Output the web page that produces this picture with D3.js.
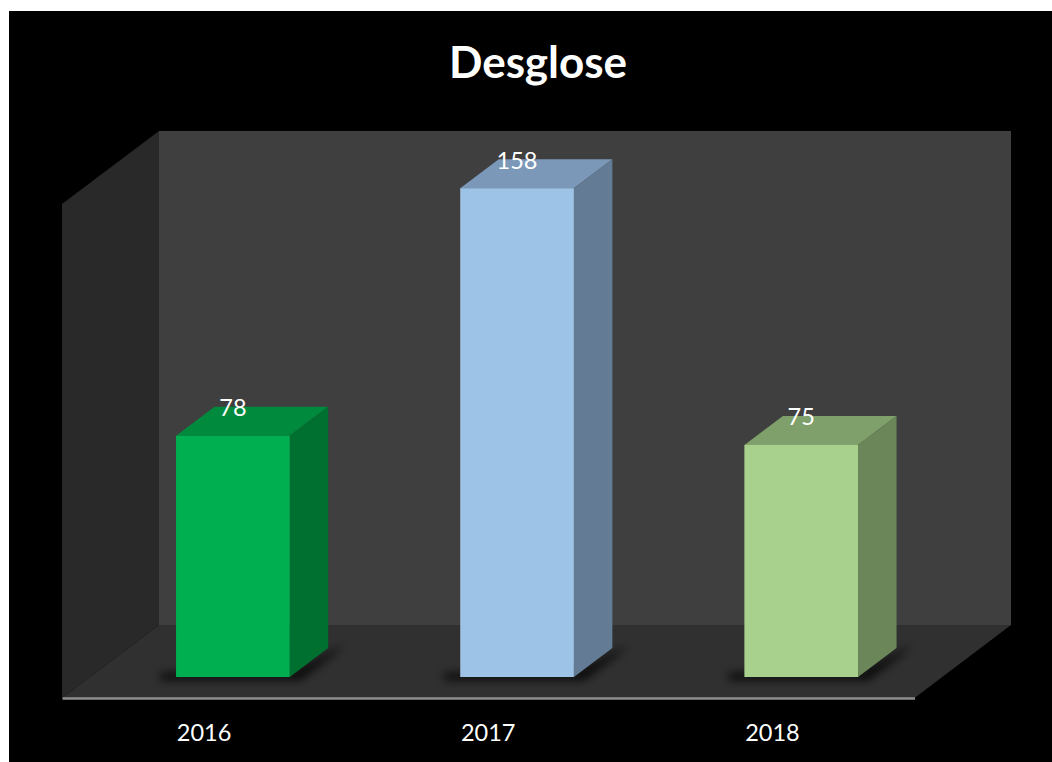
<!DOCTYPE html>
<html><head><meta charset="utf-8">
<script src="https://cdnjs.cloudflare.com/ajax/libs/d3/7.8.5/d3.min.js"></script>
<style>html,body{margin:0;padding:0;background:#fff;overflow:hidden}svg{display:block}text{font-family:Lato,"Open Sans",sans-serif}</style>
</head><body><script>
const categories = ["2016","2017","2018"];
const values = [78,158,75];
const frontColors = ["#00B050","#9DC3E6","#A9D18E"];
const sideColors  = ["#007030","#647B95","#6B8659"];
const topColors   = ["#008A3E","#7C98B8","#80A06B"];
const titleText = "Desglose";

const W=1052,H=762;
const svg=d3.select("body").append("svg").attr("width",W).attr("height",H);
svg.append("rect").attr("x",9).attr("y",11).attr("width",W-9).attr("height",H-11).attr("fill","#000");

const x=d3.scaleBand().domain(categories).range([62,914.5]).paddingInner(0.6).paddingOuter(0.3);
const baseY=677;
const y=d3.scaleLinear().domain([0,160]).range([baseY,baseY-495]);
const floorFront=698, floorDX=97, floorDY=-73;
const barShiftX=28.8, barDX=38.5, barDY=-29;
const pts=a=>a.map(p=>p.join(",")).join(" ");

const wallTopY=131, xL=x.range()[0], xR=x.range()[1];
// back wall
svg.append("polygon").attr("points",pts([[xL+floorDX,wallTopY],[xR+floorDX-0.5,wallTopY],[xR+floorDX-0.5,floorFront+floorDY],[xL+floorDX,floorFront+floorDY]])).attr("fill","#3F3F3F");
// side wall
svg.append("polygon").attr("points",pts([[xL,wallTopY-floorDY],[xL+floorDX,wallTopY],[xL+floorDX,floorFront+floorDY],[xL,floorFront]])).attr("fill","#292929");
// floor
svg.append("polygon").attr("points",pts([[xL,floorFront],[xL+floorDX,floorFront+floorDY],[xR+floorDX-0.5,floorFront+floorDY],[xR,floorFront]])).attr("fill","#303030");

const defs=svg.append("defs");
defs.append("filter").attr("id","sh").attr("x","-30%").attr("y","-60%").attr("width","160%").attr("height","220%")
  .append("feGaussianBlur").attr("stdDeviation",5);

const data=categories.map((c,i)=>({c,v:values[i],i}));
const bw=x.bandwidth();
const g=svg.append("g").selectAll("g").data(data).join("g");
const bx=d=>x(d.c)+barShiftX;
// floor shadow
g.append("polygon").attr("filter","url(#sh)").attr("fill","#000").attr("fill-opacity",0.85)
 .attr("points",d=>pts([[bx(d)-16,baseY-4],[bx(d)+bw,baseY-4],[bx(d)+bw+barDX+15,baseY+barDY-3],[bx(d)+bw+barDX+6,baseY+barDY+6],[bx(d)+bw+10,baseY+3],[bx(d)-16,baseY+3]]));
// top face
g.append("polygon").attr("fill",d=>topColors[d.i])
 .attr("points",d=>pts([[bx(d),y(d.v)],[bx(d)+bw,y(d.v)],[bx(d)+bw+barDX,y(d.v)+barDY],[bx(d)+barDX,y(d.v)+barDY]]));
// side face
g.append("polygon").attr("fill",d=>sideColors[d.i])
 .attr("points",d=>pts([[bx(d)+bw,y(d.v)],[bx(d)+bw+barDX,y(d.v)+barDY],[bx(d)+bw+barDX,baseY+barDY],[bx(d)+bw,baseY]]));
// front face
g.append("rect").attr("fill",d=>frontColors[d.i])
 .attr("x",bx).attr("y",d=>y(d.v)).attr("width",bw).attr("height",d=>baseY-y(d.v));
// labels
g.append("text").attr("x",d=>bx(d)+bw/2).attr("y",d=>y(d.v)-19.5).attr("text-anchor","middle")
 .attr("font-size",23.5).attr("fill","#fff").text(d=>d.v);

// axis
const axis=svg.append("g").attr("transform",`translate(0,${floorFront})`)
 .call(d3.axisBottom(x).tickSize(0).tickPadding(26.5));
axis.select(".domain").attr("stroke","#8E8E8E").attr("stroke-width",2.4);
axis.selectAll("text").attr("font-size",23.5).attr("fill","#fff").style("font-family","Lato,'Open Sans',sans-serif");

svg.append("text").attr("x",538).attr("y",78).attr("text-anchor","middle")
 .attr("font-size",44).attr("font-weight",700).attr("fill","#fff").text(titleText);
</script></body></html>
